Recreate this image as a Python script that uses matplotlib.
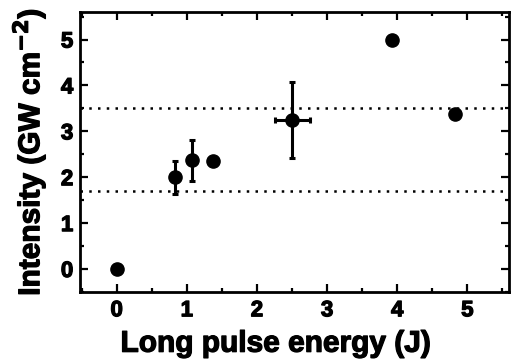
import matplotlib
matplotlib.use("Agg")
import matplotlib.pyplot as plt
import matplotlib.patheffects as pe
from matplotlib.ticker import MultipleLocator

# Data
energy = [0.0, 0.83, 1.08, 1.38, 2.5, 3.93, 4.83]
intensity = [0.0, 2.0, 2.37, 2.35, 3.25, 5.0, 3.37]
y_err_lo = [0, 0.37, 0.45, 0, 0.83, 0, 0]
y_err_hi = [0, 0.35, 0.45, 0, 0.82, 0, 0]
x_err = [0, 0, 0, 0, 0.25, 0, 0]
threshold_lines = [3.5, 1.7]

plt.rcParams['font.family'] = ['Liberation Sans', 'DejaVu Sans']
plt.rcParams['font.weight'] = 'bold'
plt.rcParams['mathtext.default'] = 'bf'

heavy = [pe.withStroke(linewidth=0.9, foreground='black')]

fig = plt.figure(figsize=(5.11, 3.64), dpi=100)
ax = fig.add_axes([0.157, 0.198, 0.84, 0.769])

ax.errorbar(energy, intensity, yerr=[y_err_lo, y_err_hi], xerr=x_err,
            fmt='o', color='black', markersize=9.5, elinewidth=2.2,
            capsize=2.5, capthick=2.2)

for yv in threshold_lines:
    ax.axhline(yv, color='black', linestyle=(0, (1, 2.5)), linewidth=1.8)

ax.set_xlim(-0.52, 5.6)
ax.set_ylim(-0.5, 5.6)
ax.xaxis.set_major_locator(MultipleLocator(1))
ax.xaxis.set_minor_locator(MultipleLocator(0.5))
ax.yaxis.set_major_locator(MultipleLocator(1))
ax.yaxis.set_minor_locator(MultipleLocator(0.5))
ax.tick_params(which='both', direction='in', top=True, right=True,
               width=1.6, labelsize=16)
ax.tick_params(axis='x', pad=6)
ax.tick_params(axis='y', pad=5)
ax.tick_params(which='major', length=6)
ax.tick_params(which='minor', length=3)
for lab in ax.get_xticklabels() + ax.get_yticklabels():
    lab.set_fontweight('bold')
    lab.set_path_effects(heavy)
for s in ax.spines.values():
    s.set_linewidth(2)

ax.set_xlabel('Long pulse energy (J)', fontsize=21.5, fontweight='bold',
              path_effects=heavy)
ax.set_ylabel('Intensity (GW cm$^{-2}$)', fontsize=21.5, fontweight='bold',
              path_effects=heavy)
ax.xaxis.set_label_coords(0.455, -0.135)
ax.yaxis.set_label_coords(-0.075, 0.5)

fig.savefig('out.png', dpi=100, facecolor='white')
